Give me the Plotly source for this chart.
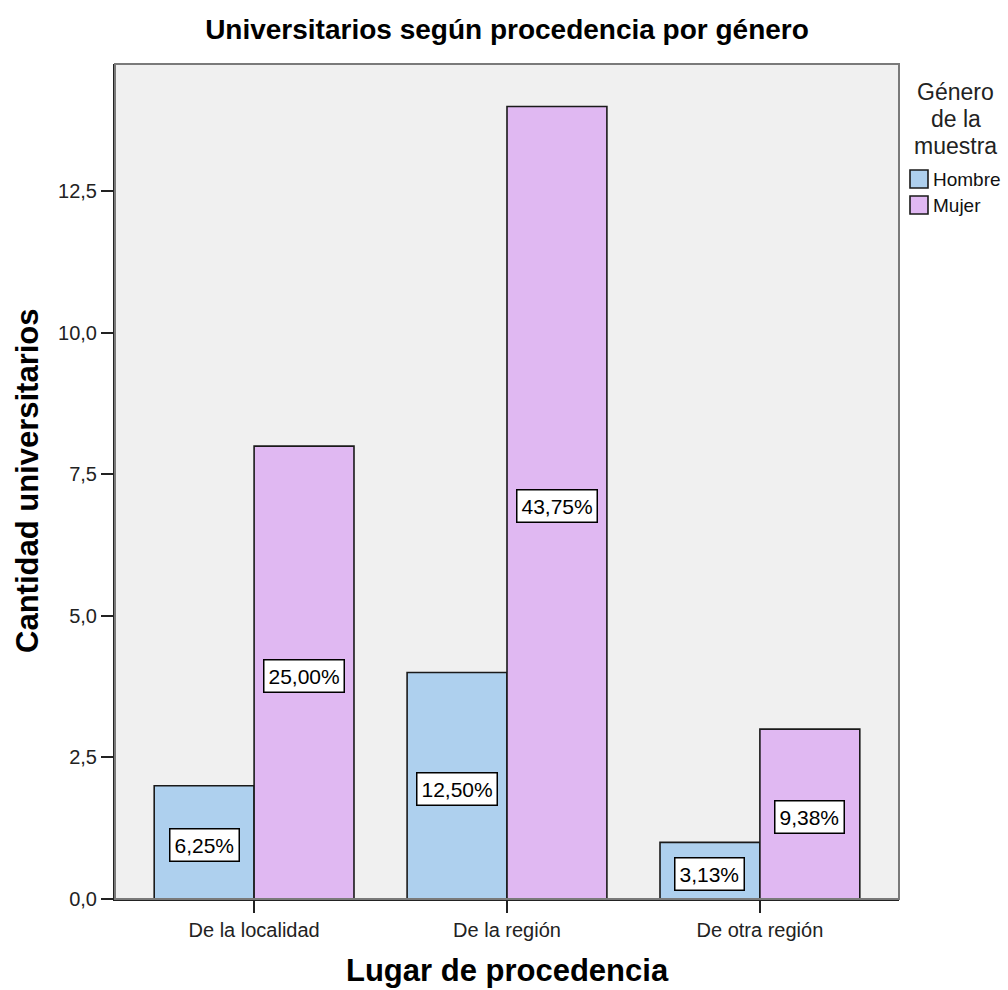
from decimal import Decimal, ROUND_HALF_UP
import plotly.graph_objects as go

# Category labels and counts per gender
categories = ["De la localidad", "De la región", "De otra región"]
hombre = [2, 4, 1]
mujer = [8, 14, 3]
series_names = ["Hombre", "Mujer"]
series_colors = ["#AED0EE", "#E0B8F2"]
y_ticks = [0, 2.5, 5, 7.5, 10, 12.5]

FONT = "Liberation Sans, Arial, sans-serif"
W, H = 1008, 990
L, R, T, B = 115, 109, 64, 91
BARGAP = 0.21

total = sum(hombre) + sum(mujer)


def pct_label(v):
    p = Decimal(v) * Decimal(100) / Decimal(total)
    p = p.quantize(Decimal("0.01"), rounding=ROUND_HALF_UP)
    return f"{p}%".replace(".", ",")


def px_x(px):
    return (px - L) / (W - L - R)


def px_y(py):
    return (H - B - py) / (H - T - B)


fig = go.Figure()
for name, vals, col in zip(series_names, [hombre, mujer], series_colors):
    fig.add_trace(go.Bar(
        x=categories, y=vals, name=name,
        marker=dict(color=col, line=dict(color="#1a1a1a", width=1.6)),
        showlegend=False, hoverinfo="skip",
    ))

# Percentage labels in white boxes at half bar height
half_w = (1 - BARGAP) / 2
annotations = []
for k, vals in enumerate([hombre, mujer]):
    off = (-0.5 + k) * half_w
    for i, v in enumerate(vals):
        annotations.append(dict(
            x=i + off, y=v / 2, xref="x", yref="y", yshift=-3,
            text=pct_label(v), showarrow=False,
            font=dict(family=FONT, size=21, color="black"),
            bgcolor="white", bordercolor="black", borderwidth=1.5, borderpad=4,
        ))

# Axis titles
annotations.append(dict(
    x=0.5, y=px_y(970), xref="paper", yref="paper",
    text="<b>Lugar de procedencia</b>", showarrow=False,
    font=dict(family=FONT, size=31, color="black"),
    xanchor="center", yanchor="middle",
))
annotations.append(dict(
    x=px_x(27), y=px_y(481), xref="paper", yref="paper",
    text="<b>Cantidad universitarios</b>", showarrow=False, textangle=-90,
    font=dict(family=FONT, size=31, color="black"),
    xanchor="center", yanchor="middle",
))

# Legend title and entries
for txt, yy in zip(["Género", "de la", "muestra"], [92, 119, 146]):
    annotations.append(dict(
        x=px_x(956), y=px_y(yy), xref="paper", yref="paper",
        text=txt, showarrow=False,
        font=dict(family=FONT, size=23, color="#222"),
        xanchor="center", yanchor="middle",
    ))

shapes = []
for name, col, yy in zip(series_names, series_colors, [179, 205]):
    shapes.append(dict(
        type="rect", xref="paper", yref="paper",
        x0=px_x(910), x1=px_x(928), y0=px_y(yy - 9), y1=px_y(yy + 9),
        fillcolor=col, line=dict(color="#1a1a1a", width=1.6),
    ))
    annotations.append(dict(
        x=px_x(931), y=px_y(yy), xref="paper", yref="paper",
        text=name, showarrow=False,
        font=dict(family=FONT, size=19, color="#111"),
        xanchor="left", yanchor="middle",
    ))

# Grey frame round the plot area
shapes.append(dict(
    type="rect", xref="paper", yref="paper", x0=0, x1=1, y0=0, y1=1,
    line=dict(color="#7a7a7a", width=2), layer="above",
))

fig.update_layout(
    width=W, height=H,
    margin=dict(l=L, r=R, t=T, b=B),
    paper_bgcolor="white", plot_bgcolor="#F0F0F0",
    barmode="group", bargap=BARGAP, bargroupgap=0,
    separators=",.",
    title=dict(
        text="<b>Universitarios según procedencia por género</b>",
        x=0.5, xref="paper", xanchor="center",
        y=1 - 29 / H, yref="container", yanchor="middle",
        font=dict(family=FONT, size=28, color="black"),
    ),
    xaxis=dict(
        range=[-0.55, 2.55], showline=True, linecolor="#222", linewidth=2,
        ticks="outside", ticklen=12, tickwidth=1.5, tickcolor="#222",
        tickfont=dict(family=FONT, size=20, color="#222"),
        showgrid=False, zeroline=False,
    ),
    yaxis=dict(
        range=[0, 14.75], tickvals=y_ticks, tickformat=".1f",
        showline=True, linecolor="#222", linewidth=2,
        ticks="outside", ticklen=12, tickwidth=1.5, tickcolor="#222",
        tickfont=dict(family=FONT, size=20, color="#222"),
        showgrid=False, zeroline=False,
    ),
    annotations=annotations,
    shapes=shapes,
    font=dict(family=FONT),
)

fig.write_html("out.html")
